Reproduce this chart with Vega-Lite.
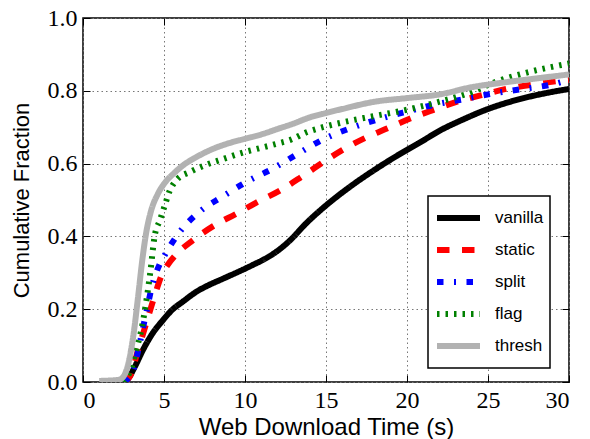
{
  "$schema": "https://vega.github.io/schema/vega-lite/v6.json",
  "width": 486,
  "height": 364,
  "autosize": {"type": "none"},
  "padding": {"left": 83, "top": 18, "right": 21, "bottom": 57},
  "background": "white",
  "config": {
    "view": {"stroke": "black", "strokeWidth": 1.5},
    "axis": {
      "domain": false,
      "grid": true,
      "gridColor": "#777777",
      "gridDash": [1.5, 3],
      "gridWidth": 1,
      "gridOpacity": 1,
      "tickColor": "black",
      "tickSize": -7,
      "tickWidth": 1
    },
    "legend": {"strokeWidth": 1.5}
  },
  "data": {
    "values": [
      {"t": 2.5, "f": 0.0, "s": "vanilla"},
      {"t": 2.7, "f": 0.005, "s": "vanilla"},
      {"t": 3.2, "f": 0.042, "s": "vanilla"},
      {"t": 3.7, "f": 0.088, "s": "vanilla"},
      {"t": 4.3, "f": 0.134, "s": "vanilla"},
      {"t": 4.9, "f": 0.168, "s": "vanilla"},
      {"t": 5.5, "f": 0.198, "s": "vanilla"},
      {"t": 6.2, "f": 0.222, "s": "vanilla"},
      {"t": 7.0, "f": 0.248, "s": "vanilla"},
      {"t": 7.8, "f": 0.267, "s": "vanilla"},
      {"t": 8.6, "f": 0.283, "s": "vanilla"},
      {"t": 9.5, "f": 0.301, "s": "vanilla"},
      {"t": 10.5, "f": 0.322, "s": "vanilla"},
      {"t": 11.3, "f": 0.34, "s": "vanilla"},
      {"t": 12.0, "f": 0.36, "s": "vanilla"},
      {"t": 12.8, "f": 0.39, "s": "vanilla"},
      {"t": 13.8, "f": 0.437, "s": "vanilla"},
      {"t": 15.0, "f": 0.485, "s": "vanilla"},
      {"t": 16.5, "f": 0.537, "s": "vanilla"},
      {"t": 17.9, "f": 0.58, "s": "vanilla"},
      {"t": 19.4, "f": 0.622, "s": "vanilla"},
      {"t": 20.8, "f": 0.658, "s": "vanilla"},
      {"t": 22.0, "f": 0.69, "s": "vanilla"},
      {"t": 23.5, "f": 0.722, "s": "vanilla"},
      {"t": 25.0, "f": 0.75, "s": "vanilla"},
      {"t": 26.0, "f": 0.765, "s": "vanilla"},
      {"t": 27.2, "f": 0.78, "s": "vanilla"},
      {"t": 28.5, "f": 0.793, "s": "vanilla"},
      {"t": 30.0, "f": 0.805, "s": "vanilla"},

      {"t": 2.5, "f": 0.0, "s": "static"},
      {"t": 2.9, "f": 0.015, "s": "static"},
      {"t": 3.4, "f": 0.088, "s": "static"},
      {"t": 3.9, "f": 0.161, "s": "static"},
      {"t": 4.4, "f": 0.234, "s": "static"},
      {"t": 4.9, "f": 0.298, "s": "static"},
      {"t": 5.2, "f": 0.32, "s": "static"},
      {"t": 5.7, "f": 0.348, "s": "static"},
      {"t": 6.8, "f": 0.39, "s": "static"},
      {"t": 8.1, "f": 0.43, "s": "static"},
      {"t": 9.5, "f": 0.463, "s": "static"},
      {"t": 10.7, "f": 0.493, "s": "static"},
      {"t": 12.2, "f": 0.527, "s": "static"},
      {"t": 13.5, "f": 0.564, "s": "static"},
      {"t": 14.7, "f": 0.6, "s": "static"},
      {"t": 16.0, "f": 0.637, "s": "static"},
      {"t": 17.4, "f": 0.67, "s": "static"},
      {"t": 18.8, "f": 0.697, "s": "static"},
      {"t": 20.2, "f": 0.724, "s": "static"},
      {"t": 21.6, "f": 0.747, "s": "static"},
      {"t": 23.1, "f": 0.77, "s": "static"},
      {"t": 24.6, "f": 0.788, "s": "static"},
      {"t": 26.2, "f": 0.806, "s": "static"},
      {"t": 27.6, "f": 0.816, "s": "static"},
      {"t": 29.2, "f": 0.826, "s": "static"},
      {"t": 30.0, "f": 0.83, "s": "static"},

      {"t": 2.5, "f": 0.0, "s": "split"},
      {"t": 3.1, "f": 0.033, "s": "split"},
      {"t": 3.5, "f": 0.106, "s": "split"},
      {"t": 3.9, "f": 0.19, "s": "split"},
      {"t": 4.3, "f": 0.27, "s": "split"},
      {"t": 4.7, "f": 0.32, "s": "split"},
      {"t": 5.0, "f": 0.345, "s": "split"},
      {"t": 5.9, "f": 0.408, "s": "split"},
      {"t": 7.2, "f": 0.468, "s": "split"},
      {"t": 8.6, "f": 0.509, "s": "split"},
      {"t": 10.1, "f": 0.55, "s": "split"},
      {"t": 11.75, "f": 0.587, "s": "split"},
      {"t": 13.3, "f": 0.628, "s": "split"},
      {"t": 14.8, "f": 0.666, "s": "split"},
      {"t": 16.5, "f": 0.697, "s": "split"},
      {"t": 18.1, "f": 0.72, "s": "split"},
      {"t": 20.0, "f": 0.743, "s": "split"},
      {"t": 21.6, "f": 0.761, "s": "split"},
      {"t": 23.5, "f": 0.777, "s": "split"},
      {"t": 25.1, "f": 0.791, "s": "split"},
      {"t": 27.0, "f": 0.804, "s": "split"},
      {"t": 28.8, "f": 0.816, "s": "split"},
      {"t": 30.0, "f": 0.83, "s": "split"},

      {"t": 2.5, "f": 0.0, "s": "flag"},
      {"t": 3.0, "f": 0.04, "s": "flag"},
      {"t": 3.3, "f": 0.09, "s": "flag"},
      {"t": 3.6, "f": 0.143, "s": "flag"},
      {"t": 3.9, "f": 0.22, "s": "flag"},
      {"t": 4.15, "f": 0.3, "s": "flag"},
      {"t": 4.42, "f": 0.4, "s": "flag"},
      {"t": 4.75, "f": 0.445, "s": "flag"},
      {"t": 5.05, "f": 0.485, "s": "flag"},
      {"t": 5.35, "f": 0.525, "s": "flag"},
      {"t": 5.8, "f": 0.556, "s": "flag"},
      {"t": 6.6, "f": 0.577, "s": "flag"},
      {"t": 7.5, "f": 0.595, "s": "flag"},
      {"t": 8.6, "f": 0.612, "s": "flag"},
      {"t": 10.0, "f": 0.632, "s": "flag"},
      {"t": 10.7, "f": 0.64, "s": "flag"},
      {"t": 12.0, "f": 0.655, "s": "flag"},
      {"t": 12.8, "f": 0.665, "s": "flag"},
      {"t": 13.8, "f": 0.686, "s": "flag"},
      {"t": 14.8, "f": 0.7, "s": "flag"},
      {"t": 15.9, "f": 0.712, "s": "flag"},
      {"t": 17.9, "f": 0.73, "s": "flag"},
      {"t": 20.0, "f": 0.748, "s": "flag"},
      {"t": 22.0, "f": 0.77, "s": "flag"},
      {"t": 24.0, "f": 0.797, "s": "flag"},
      {"t": 25.5, "f": 0.825, "s": "flag"},
      {"t": 27.4, "f": 0.85, "s": "flag"},
      {"t": 30.0, "f": 0.875, "s": "flag"},

      {"t": 1.0, "f": 0.003, "s": "thresh"},
      {"t": 2.2, "f": 0.006, "s": "thresh"},
      {"t": 2.5, "f": 0.015, "s": "thresh"},
      {"t": 2.7, "f": 0.035, "s": "thresh"},
      {"t": 3.1, "f": 0.125, "s": "thresh"},
      {"t": 3.4, "f": 0.234, "s": "thresh"},
      {"t": 3.66, "f": 0.335, "s": "thresh"},
      {"t": 3.9, "f": 0.41, "s": "thresh"},
      {"t": 4.2, "f": 0.47, "s": "thresh"},
      {"t": 4.6, "f": 0.515, "s": "thresh"},
      {"t": 5.1, "f": 0.55, "s": "thresh"},
      {"t": 5.6, "f": 0.573, "s": "thresh"},
      {"t": 6.2, "f": 0.596, "s": "thresh"},
      {"t": 7.0, "f": 0.618, "s": "thresh"},
      {"t": 8.0, "f": 0.64, "s": "thresh"},
      {"t": 9.0, "f": 0.656, "s": "thresh"},
      {"t": 10.0, "f": 0.668, "s": "thresh"},
      {"t": 11.0, "f": 0.68, "s": "thresh"},
      {"t": 12.0, "f": 0.695, "s": "thresh"},
      {"t": 13.0, "f": 0.71, "s": "thresh"},
      {"t": 14.0, "f": 0.727, "s": "thresh"},
      {"t": 15.0, "f": 0.739, "s": "thresh"},
      {"t": 16.0, "f": 0.75, "s": "thresh"},
      {"t": 18.0, "f": 0.77, "s": "thresh"},
      {"t": 20.0, "f": 0.78, "s": "thresh"},
      {"t": 22.0, "f": 0.79, "s": "thresh"},
      {"t": 24.0, "f": 0.81, "s": "thresh"},
      {"t": 26.0, "f": 0.823, "s": "thresh"},
      {"t": 28.0, "f": 0.834, "s": "thresh"},
      {"t": 30.0, "f": 0.845, "s": "thresh"}
    ]
  },
  "layer": [
    {
      "mark": {"type": "line", "interpolate": "monotone", "strokeWidth": 6, "clip": true},
      "encoding": {
        "x": {
          "field": "t", "type": "quantitative",
          "scale": {"domain": [0, 30], "nice": false, "zero": false},
          "axis": {"title": "Web Download Time (s)", "values": [0, 5, 10, 15, 20, 25, 30], "labelPadding": 13, "titlePadding": 3,
                   "labelFont": "Liberation Serif, Times New Roman, serif", "labelFontSize": 24, "labelColor": "black",
                   "titleFont": "Liberation Sans, Arial, sans-serif", "titleFontSize": 24, "titleFontWeight": "normal", "titleColor": "black"}
        },
        "y": {
          "field": "f", "type": "quantitative",
          "scale": {"domain": [0, 1], "nice": false},
          "axis": {"title": "Cumulative Fraction", "values": [0, 0.2, 0.4, 0.6, 0.8, 1.0], "format": ".1f", "labelPadding": 13, "titlePadding": 14,
                   "labelFont": "Liberation Serif, Times New Roman, serif", "labelFontSize": 24, "labelColor": "black",
                   "titleFont": "Liberation Sans, Arial, sans-serif", "titleFontSize": 22, "titleFontWeight": "normal", "titleColor": "black"}
        },
        "color": {
          "field": "s", "type": "nominal",
          "scale": {"domain": ["vanilla", "static", "split", "flag", "thresh"], "range": ["#000000", "#ff0000", "#0000ff", "#008000", "#b2b2b2"]},
          "legend": {"title": null, "orient": "none", "legendX": 345, "legendY": 178, "symbolType": "stroke", "symbolSize": 1849, "symbolStrokeWidth": 6, "labelFont": "Liberation Sans, Arial, sans-serif", "labelFontSize": 17, "labelColor": "black", "labelOffset": 12, "padding": 6, "clipHeight": 32, "rowPadding": 0, "strokeColor": "black", "fillColor": "white"}
        },
        "strokeDash": {
          "field": "s", "type": "nominal",
          "scale": {"domain": ["vanilla", "static", "split", "flag", "thresh"], "range": [[1, 0], [12.5, 12.5], [6.5, 10.5, 2, 10.5], [2.5, 6], [1, 0]]},
          "legend": {"title": null, "orient": "none", "legendX": 345, "legendY": 178, "symbolType": "stroke", "symbolSize": 1849, "symbolStrokeWidth": 6, "labelFont": "Liberation Sans, Arial, sans-serif", "labelFontSize": 17, "labelColor": "black", "labelOffset": 12, "padding": 6, "clipHeight": 32, "rowPadding": 0, "strokeColor": "black", "fillColor": "white"}
        }
      }
    },
    {
      "mark": {"type": "line", "opacity": 0},
      "encoding": {
        "x": {"field": "t", "type": "quantitative", "axis": {"orient": "top", "title": null, "labels": false, "grid": false, "values": [0, 5, 10, 15, 20, 25, 30]}},
        "y": {"field": "f", "type": "quantitative", "axis": {"orient": "right", "title": null, "labels": false, "grid": false, "values": [0, 0.2, 0.4, 0.6, 0.8, 1.0]}},
        "detail": {"field": "s", "type": "nominal"}
      }
    }
  ],
  "resolve": {"axis": {"x": "independent", "y": "independent"}}
}
